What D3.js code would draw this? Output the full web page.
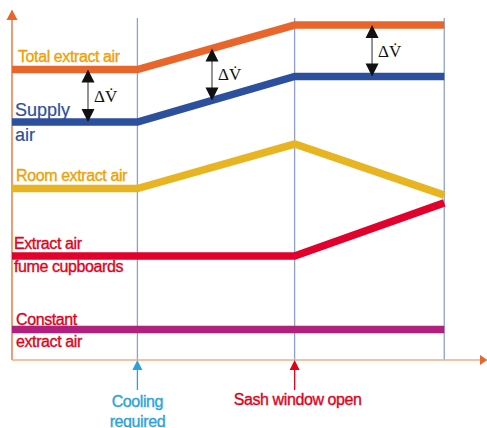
<!DOCTYPE html>
<meta charset="utf-8">
<script src="https://d3js.org/d3.v7.min.js"></script>
<style>
  body { margin: 0; background: #fff; font-family: "Liberation Sans", Arial, sans-serif; }
  svg { display: block; }
  .lbl { font-family: "Liberation Sans", Arial, sans-serif; font-size: 16px; letter-spacing: -0.4px; stroke-width: 0.35px; }
  .big { font-size: 18px; letter-spacing: 0; stroke-width: 0.2px; }
  .dv { font-family: "Liberation Serif", "Times New Roman", serif; font-size: 17px; fill: #111; }
</style>
<div id="chart"></div>
<script>
// time positions: start, cooling required, sash window open, end
var events = [0, 26.4, 59.5, 91];

// air volume flows at each event (arbitrary units)
var totalExtract    = [83, 83, 95.7, 95.7];
var supplyAir       = [68, 68, 81, 81];
var roomExtract     = [49, 49, 61.7, 47.1];
var fumeCupboards   = [29.7, 29.7, 29.7, 44.9];
var constantExtract = [8.7, 8.7, 8.7, 8.7];

// where the delta V arrows sit
var deltaAt = [16, 42.1, 75.8];

var seriesLabels = [["Total extract air"], ["Supply", "air"], ["Room extract air"],
                    ["Extract air", "fume cupboards"], ["Constant", "extract air"]];
var markerLabels = [["Cooling", "required"], ["Sash window open"]];

var W = 487, H = 428;

var svg = d3.select("#chart").append("svg")
  .attr("width", W).attr("height", H);

var x = d3.scaleLinear().domain([0, 100]).range([12, 487]);
var y = d3.scaleLinear().domain([0, 100]).range([360, 10]);

// vertical event lines
svg.selectAll(".vline")
  .data(events.slice(1))
  .enter().append("line")
  .attr("x1", function(d) { return x(d); })
  .attr("x2", function(d) { return x(d); })
  .attr("y1", 18).attr("y2", y(0))
  .attr("stroke", "#8d9fd3").attr("stroke-width", 1.3);

// axes
svg.append("line")
  .attr("x1", x(0)).attr("x2", x(0))
  .attr("y1", y(0)).attr("y2", 19)
  .attr("stroke", "#e8662b").attr("stroke-width", 1.3);
svg.append("path")
  .attr("d", "M" + (x(0) - 5.5) + ",20 L" + x(0) + ",9.5 L" + (x(0) + 5.5) + ",20 Z")
  .attr("fill", "#e8662b");
svg.append("line")
  .attr("x1", x(0)).attr("x2", 481)
  .attr("y1", y(0)).attr("y2", y(0))
  .attr("stroke", "#f5ab85").attr("stroke-width", 1.5);
svg.append("path")
  .attr("d", "M480," + (y(0) - 5) + " L487.5," + y(0) + " L480," + (y(0) + 5) + " Z")
  .attr("fill", "#e8662b");

var series = [
  { vals: totalExtract,    color: "#e8662b", text: "#f29f05", lx: 18, ly: [62] },
  { vals: supplyAir,       color: "#2c4f9e", text: "#2c4f9e", lx: 15, ly: [116, 141], big: true },
  { vals: roomExtract,     color: "#e8b422", text: "#f29f05", lx: 16, ly: [181] },
  { vals: fumeCupboards,   color: "#e2002d", text: "#e2001a", lx: 14, ly: [249, 272] },
  { vals: constantExtract, color: "#b1207d", text: "#e2001a", lx: 16, ly: [325, 347] }
];

var line = d3.line()
  .x(function(d, i) { return x(events[i]); })
  .y(function(d) { return y(d); });

series.forEach(function(s, k) {
  svg.append("path")
    .attr("d", line(s.vals))
    .attr("fill", "none")
    .attr("stroke", s.color)
    .attr("stroke-width", 7.5)
    .attr("stroke-linejoin", "miter");

  seriesLabels[k].forEach(function(t, j) {
    svg.append("text")
      .attr("class", s.big ? "lbl big" : "lbl")
      .attr("x", s.lx).attr("y", s.ly[j])
      .attr("fill", s.text)
      .attr("stroke", s.text)
      .text(t);
  });
});

// value of a series at position p
function valueAt(vals, p) {
  for (var i = 0; i < events.length - 1; i++) {
    if (p <= events[i + 1]) {
      var t = (p - events[i]) / (events[i + 1] - events[i]);
      return d3.interpolateNumber(vals[i], vals[i + 1])(t);
    }
  }
  return vals[vals.length - 1];
}

// delta V double arrows between total extract and supply air
deltaAt.forEach(function(p) {
  var px = x(p);
  var top = y(valueAt(totalExtract, p));
  var bot = y(valueAt(supplyAir, p));
  svg.append("line")
    .attr("x1", px).attr("x2", px)
    .attr("y1", top + 10).attr("y2", bot - 10)
    .attr("stroke", "#7a7a7a").attr("stroke-width", 1.6);
  svg.append("path")
    .attr("d", "M" + px + "," + top + " L" + (px + 6.5) + "," + (top + 13) + " L" + (px - 6.5) + "," + (top + 13) + " Z")
    .attr("fill", "#111");
  svg.append("path")
    .attr("d", "M" + px + "," + bot + " L" + (px + 6.5) + "," + (bot - 13) + " L" + (px - 6.5) + "," + (bot - 13) + " Z")
    .attr("fill", "#111");
  svg.append("text")
    .attr("class", "dv")
    .attr("x", px + 6).attr("y", (top + bot) / 2 + 6)
    .text("\u0394V\u0307");
});

// event markers under the x axis
var markerColors = ["#29a3dd", "#e2001a"];
var markerTextY = [[407, 427], [405]];
[events[1], events[2]].forEach(function(p, k) {
  var px = x(p);
  svg.append("line")
    .attr("x1", px).attr("x2", px)
    .attr("y1", 369).attr("y2", 390)
    .attr("stroke", markerColors[k]).attr("stroke-width", 1.3);
  svg.append("path")
    .attr("d", "M" + (px - 5) + ",370 L" + px + ",360 L" + (px + 5) + ",370 Z")
    .attr("fill", markerColors[k]);
  markerLabels[k].forEach(function(t, j) {
    svg.append("text")
      .attr("class", "lbl")
      .attr("x", px + (k === 1 ? 3 : 0)).attr("y", markerTextY[k][j])
      .attr("text-anchor", "middle")
      .attr("fill", markerColors[k])
      .attr("stroke", markerColors[k])
      .text(t);
  });
});
</script>
